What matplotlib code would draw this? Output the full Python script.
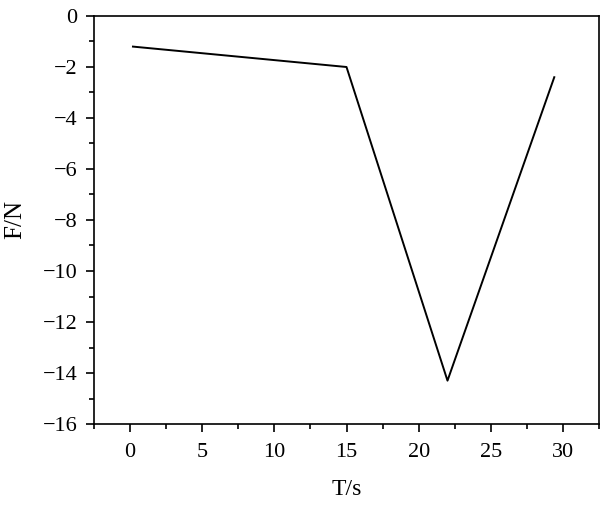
import matplotlib
matplotlib.use("Agg")
import matplotlib.pyplot as plt
from matplotlib.ticker import MultipleLocator

t = [0.2, 15.0, 22.0, 29.4]
f = [-1.2, -2.0, -14.3, -2.4]

plt.rcParams['font.family'] = ['Liberation Serif', 'DejaVu Serif']
fig = plt.figure(figsize=(6.0, 5.05), dpi=100)
ax = fig.add_axes([94/600, 1-424/505, (599-94)/600, (424-16)/505])
ax.plot(t, f, color='black', lw=1.4)
ax.set_xlim(-2.5, 32.5)
ax.set_ylim(-16, 0)
ax.xaxis.set_major_locator(MultipleLocator(5))
ax.xaxis.set_minor_locator(MultipleLocator(2.5))
ax.yaxis.set_major_locator(MultipleLocator(2))
ax.yaxis.set_minor_locator(MultipleLocator(1))
ax.tick_params(which='both', direction='out', labelsize=16, width=1.2)
ax.tick_params(which='major', length=6)
ax.tick_params(which='minor', length=3.5)
ax.tick_params(axis='x', pad=8)
ax.tick_params(axis='y', pad=6)
ax.set_yticks(range(-16, 1, 2))
ax.set_yticklabels([str(v).replace('-', '\u2212') for v in range(-16, 1, 2)])
for s in ax.spines.values():
    s.set_linewidth(1.2)
ax.set_xlabel('T/s', fontsize=17, labelpad=12)
ax.set_ylabel('F/N', fontsize=18, labelpad=12)
fig.savefig('out.png', dpi=100)
